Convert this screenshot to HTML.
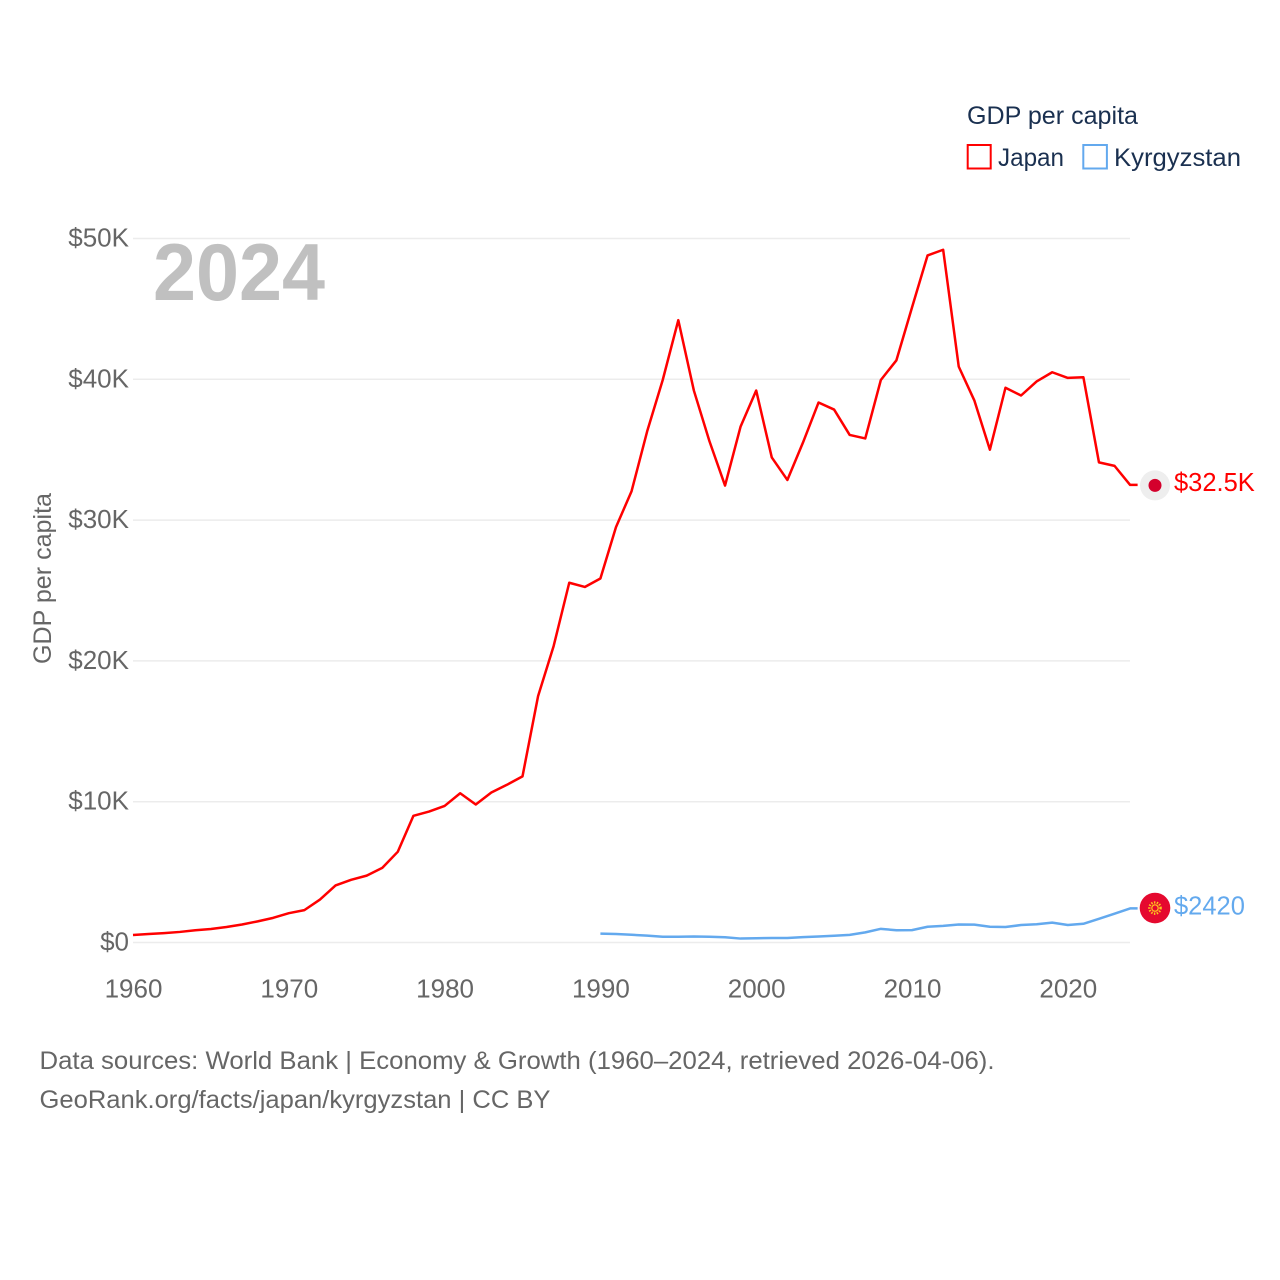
<!DOCTYPE html>
<html lang="en">
<head>
<meta charset="utf-8">
<title>GDP per capita: Japan and Kyrgyzstan</title>
<style>
html,body{margin:0;padding:0;background:#fff;width:1280px;height:1280px;overflow:hidden}
svg{display:block}
text{font-family:"Liberation Sans",sans-serif}
</style>
</head>
<body>
<svg id="chart" xmlns="http://www.w3.org/2000/svg" width="1280" height="1280" viewBox="0 0 1280 1280">
  <rect width="1280" height="1280" fill="#ffffff"/>
  <g id="grid"></g>
  <text x="153" y="300" font-size="81" font-weight="700" fill="#c0c0c0" textLength="172" lengthAdjust="spacingAndGlyphs">2024</text>
  <g id="yticks"></g>
  <g id="xticks"></g>
  <text transform="translate(51,664) rotate(-90)" font-size="25" fill="#666666" textLength="171" lengthAdjust="spacingAndGlyphs">GDP per capita</text>
  <g id="series"></g>
  <g id="endpoints"></g>
  <g>
    <text x="967" y="124" font-size="25" fill="#1a3050" textLength="171" lengthAdjust="spacingAndGlyphs">GDP per capita</text>
    <g>
      <rect x="967.7" y="145" width="23" height="23.5" fill="none" stroke="#ff0000" stroke-width="2"/>
      <text x="998" y="166" font-size="25" fill="#1a3050" textLength="66" lengthAdjust="spacingAndGlyphs">Japan</text>
    </g>
    <g>
      <rect x="1083.3" y="145" width="23.6" height="23.5" fill="none" stroke="#63a9ee" stroke-width="2"/>
      <text x="1114" y="166" font-size="25" fill="#1a3050" textLength="127" lengthAdjust="spacingAndGlyphs">Kyrgyzstan</text>
    </g>
  </g>
  <g>
    <text x="39.5" y="1069" font-size="25" fill="#666666" textLength="955" lengthAdjust="spacingAndGlyphs">Data sources: World Bank | Economy &amp; Growth (1960–2024, retrieved 2026-04-06).</text>
    <text x="39.5" y="1108" font-size="25" fill="#666666" textLength="511" lengthAdjust="spacingAndGlyphs">GeoRank.org/facts/japan/kyrgyzstan | CC BY</text>
  </g>
</svg>
<script>
const years = [1960,1961,1962,1963,1964,1965,1966,1967,1968,1969,
  1970,1971,1972,1973,1974,1975,1976,1977,1978,1979,
  1980,1981,1982,1983,1984,1985,1986,1987,1988,1989,
  1990,1991,1992,1993,1994,1995,1996,1997,1998,1999,
  2000,2001,2002,2003,2004,2005,2006,2007,2008,2009,
  2010,2011,2012,2013,2014,2015,2016,2017,2018,2019,
  2020,2021,2022,2023,2024];
const japanValues = [0.53,0.6,0.67,0.75,0.87,0.96,1.1,1.28,1.5,1.75,
  2.08,2.3,3.05,4.05,4.45,4.75,5.3,6.45,9.0,9.3,
  9.7,10.6,9.8,10.65,11.2,11.8,17.5,21.06,25.55,25.25,
  25.85,29.5,32.05,36.3,39.95,44.2,39.2,35.6,32.45,36.65,
  39.2,34.45,32.85,35.5,38.35,37.85,36.05,35.8,39.95,41.35,
  45.1,48.8,49.2,40.9,38.5,35.0,39.4,38.85,39.85,40.5,
  40.1,40.15,34.1,33.85,32.5];
const kyrgyzstanValues = [null,null,null,null,null,null,null,null,null,null,
  null,null,null,null,null,null,null,null,null,null,
  null,null,null,null,null,null,null,null,null,null,
  0.63,0.6,0.55,0.49,0.41,0.41,0.43,0.41,0.37,0.28,
  0.3,0.32,0.32,0.38,0.43,0.48,0.54,0.72,0.97,0.87,
  0.88,1.12,1.18,1.28,1.27,1.12,1.1,1.24,1.3,1.41,
  1.24,1.33,1.68,2.05,2.42];
const yTickValues = [0,10,20,30,40,50];
const yTickLabels = ["$0","$10K","$20K","$30K","$40K","$50K"];
const xTickValues = [1960,1970,1980,1990,2000,2010,2020];

const NS = "http://www.w3.org/2000/svg";
const xScale = function (year) { return 133 + (year - 1960) * 15.58; };
const yScale = function (value) { return 942.5 - value * 14.08; };
const make = function (tag, parent) {
  const el = document.createElementNS(NS, tag);
  parent.appendChild(el);
  return el;
};
const formatValue = function (v) {
  return v >= 10 ? "$" + v.toFixed(1) + "K" : "$" + Math.round(v * 1000);
};

const gridGroup = document.getElementById("grid");
const yTickGroup = document.getElementById("yticks");
yTickValues.forEach(function (v, i) {
  const line = make("line", gridGroup);
  
  
  line.setAttribute("x1", 133);
  line.setAttribute("x2", 1130);
  line.setAttribute("y1", yScale(v));
  line.setAttribute("y2", yScale(v));
  line.setAttribute("stroke", "#ececec");
  line.setAttribute("stroke-width", "1.5");
  const label = make("text", yTickGroup);
  
  
  label.setAttribute("x", 129);
  label.setAttribute("y", yScale(v) + 8);
  label.setAttribute("text-anchor", "end");
  label.setAttribute("font-size", "26");
  label.setAttribute("fill", "#666666");
  label.textContent = yTickLabels[i];
});

const xTickGroup = document.getElementById("xticks");
xTickValues.forEach(function (year) {
  const label = make("text", xTickGroup);
  
  
  label.setAttribute("x", xScale(year) + 0.5);
  label.setAttribute("y", 997.5);
  label.setAttribute("text-anchor", "middle");
  label.setAttribute("font-size", "26");
  label.setAttribute("fill", "#666666");
  label.textContent = String(year);
});

const drawSeries = function (values, color, seriesName) {
  const pts = [];
  values.forEach(function (v, i) {
    if (v !== null) { pts.push([xScale(years[i]), yScale(v)]); }
  });
  const last = pts[pts.length - 1];
  pts.push([last[0] + 7.5, last[1]]);
  const path = make("path", document.getElementById("series"));
  
  
  path.setAttribute("data-series", seriesName);
  path.setAttribute("d", pts.map(function (p, i) {
    return (i ? "L" : "M") + p[0].toFixed(2) + " " + p[1].toFixed(2);
  }).join(""));
  path.setAttribute("fill", "none");
  path.setAttribute("stroke", color);
  path.setAttribute("stroke-width", "2.5");
  path.setAttribute("stroke-linejoin", "round");
  return last[1];
};

const endpointGroup = document.getElementById("endpoints");
const drawEndLabel = function (value, y, color) {
  const label = make("text", endpointGroup);
  
  
  label.setAttribute("x", 1174);
  label.setAttribute("y", y + 6);
  label.setAttribute("font-size", "25.5");
  label.setAttribute("fill", color);
  label.textContent = formatValue(value);
};
const circle = function (cx, cy, r, fill, name) {
  const c = make("circle", endpointGroup);
  
  
  c.setAttribute("cx", cx);
  c.setAttribute("cy", cy);
  c.setAttribute("r", r);
  c.setAttribute("fill", fill);
  return c;
};

const jpY = drawSeries(japanValues, "#ff0000", "japan");
const kgY = drawSeries(kyrgyzstanValues, "#63a9ee", "kyrgyzstan");

circle(1155, jpY + 0.5, 15, "#eeeeee", "japan-flag-marker");
circle(1155, jpY + 0.5, 6.5, "#d4002c", "japan-flag-disc");
drawEndLabel(japanValues[japanValues.length - 1], jpY, "#ff0000");

circle(1155, kgY - 0.4, 15.3, "#e5092f", "kyrgyzstan-flag-marker");
const rays = circle(1155, kgY - 0.4, 5.6, "none", "kyrgyzstan-flag-sun-rays");
rays.setAttribute("stroke", "#ffc61e");
rays.setAttribute("stroke-width", "2.4");
rays.setAttribute("stroke-dasharray", "1.4 1.4");
const sun = circle(1155, kgY - 0.4, 3.2, "#e5092f", "kyrgyzstan-flag-sun");
sun.setAttribute("stroke", "#ffc61e");
sun.setAttribute("stroke-width", "1.2");
drawEndLabel(kyrgyzstanValues[kyrgyzstanValues.length - 1], kgY, "#63a9ee");
</script>
</body>
</html>
